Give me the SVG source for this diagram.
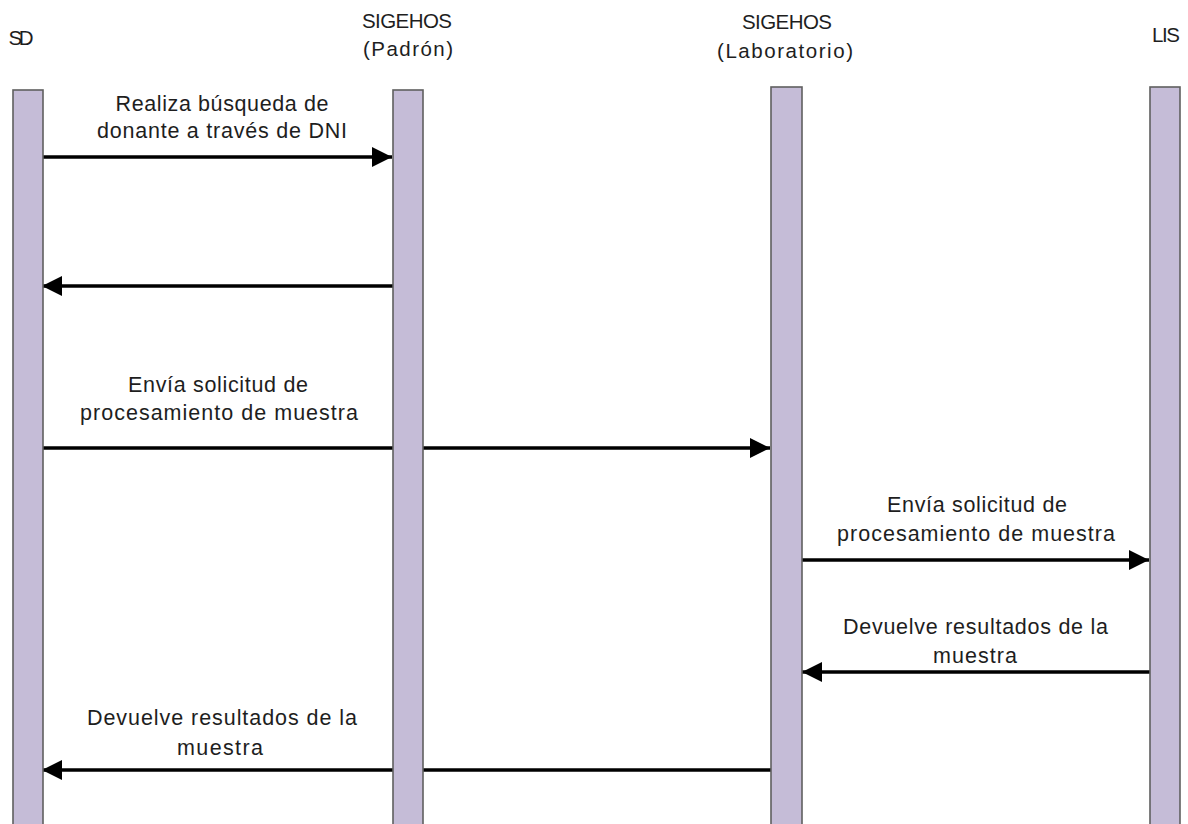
<svg xmlns="http://www.w3.org/2000/svg" width="1188" height="824" viewBox="0 0 1188 824">
<style>
.bar{fill:#c5bcd7;stroke:#5f5f5f;stroke-width:1.6}
.t{font-family:"Liberation Sans",Arial,sans-serif;font-size:21.5px;fill:#1e1e1e;text-anchor:middle}
.h{font-family:"Liberation Sans",Arial,sans-serif;font-size:20.5px;fill:#1e1e1e;text-anchor:middle}
.c{stroke:#000;stroke-width:3.4;fill:none;marker-end:url(#ah)}
</style>
<defs>
<marker id="ah" markerUnits="userSpaceOnUse" markerWidth="20" markerHeight="20" refX="20" refY="10" orient="auto">
<path d="M0,0 L20,10 L0,20 z" fill="#000"/>
</marker>
</defs>
<rect width="1188" height="824" fill="#fff"/>
<g id="connectors">
<line class="c" x1="43" y1="157" x2="392" y2="157"/>
<line class="c" x1="393" y1="286" x2="42" y2="286"/>
<line class="c" x1="43" y1="448" x2="770" y2="448"/>
<line class="c" x1="802" y1="560" x2="1149" y2="560"/>
<line class="c" x1="1150" y1="672" x2="802" y2="672"/>
<line class="c" x1="771" y1="770" x2="42" y2="770"/>
</g>
<g id="labels">
<text class="t" x="222" y="111" textLength="213">Realiza búsqueda de</text>
<text class="t" x="222" y="138" textLength="250">donante a través de DNI</text>
<text class="t" x="218" y="392" textLength="180">Envía solicitud de</text>
<text class="t" x="219" y="420" textLength="278">procesamiento de muestra</text>
<text class="t" x="977" y="512" textLength="180">Envía solicitud de</text>
<text class="t" x="976" y="541" textLength="278">procesamiento de muestra</text>
<text class="t" x="975.5" y="634" textLength="265">Devuelve resultados de la</text>
<text class="t" x="975" y="663" textLength="84">muestra</text>
<text class="t" x="222" y="725" textLength="270">Devuelve resultados de la</text>
<text class="t" x="220" y="755" textLength="86">muestra</text>
</g>
<g id="SD">
<rect class="bar" x="13" y="90" width="30" height="760"/>
<text class="h" x="21" y="45" textLength="25">SD</text>
</g>
<g id="SIGEHOS-Padron">
<rect class="bar" x="393" y="90" width="30" height="760"/>
<text class="h" x="407" y="28" textLength="90">SIGEHOS</text>
<text class="h" x="408" y="56" textLength="90">(Padrón)</text>
</g>
<g id="SIGEHOS-Laboratorio">
<rect class="bar" x="771" y="87" width="31" height="760"/>
<text class="h" x="787" y="29" textLength="90">SIGEHOS</text>
<text class="h" x="785" y="58" textLength="136">(Laboratorio)</text>
</g>
<g id="LIS">
<rect class="bar" x="1150" y="87" width="30" height="760"/>
<text class="h" x="1166" y="42" textLength="28">LIS</text>
</g>
</svg>
